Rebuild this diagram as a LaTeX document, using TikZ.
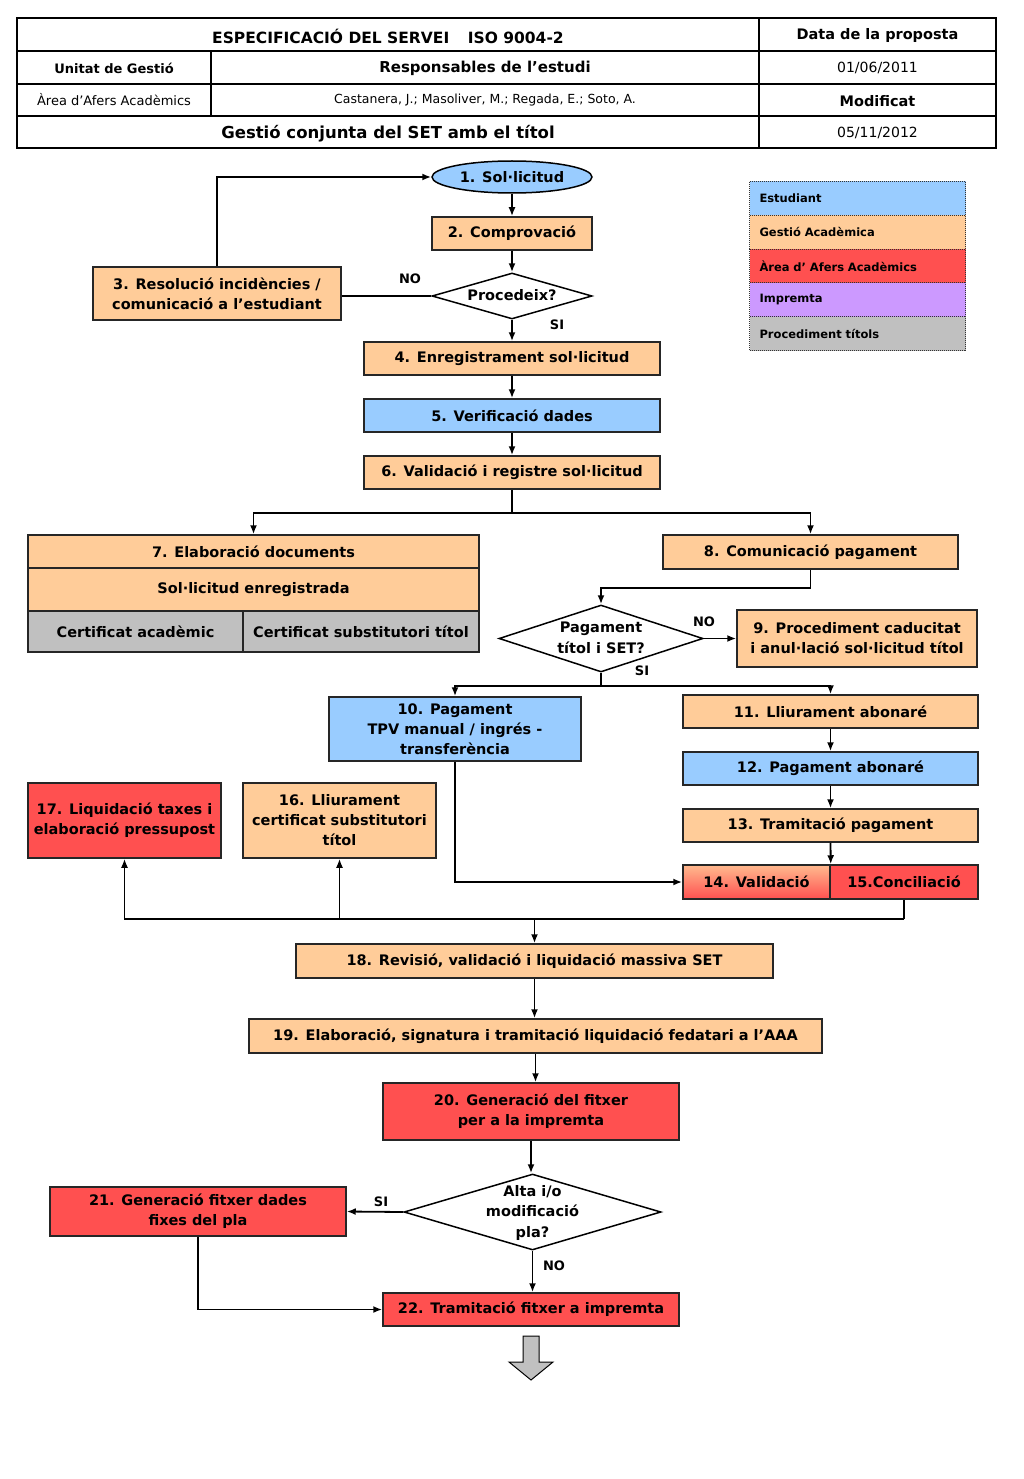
\documentclass[tikz,border=0pt]{standalone}
\usepackage{fontspec}
\setmainfont{DejaVu Sans}
\usetikzlibrary{shapes,arrows.meta,positioning,calc}

\definecolor{estblue}{HTML}{99CCFF}
\definecolor{gesorange}{HTML}{FFCC99}
\definecolor{aaared}{HTML}{FF5050}
\definecolor{imppurple}{HTML}{CC99FF}
\definecolor{titgrey}{HTML}{C0C0C0}

% text of a decision, kept out of the diamond's size
\newcommand{\dtext}[1]{\raisebox{-.55em}{\makebox[0pt]{\smash{\begin{tabular}{@{}c@{}}#1\end{tabular}}}}}

\begin{document}
\begin{tikzpicture}[x=1pt,y=-1pt,
    box/.style={draw=black!85, line width=1.5pt, fill=gesorange, align=center, inner sep=0pt,
        font=\bfseries\fontsize{14.5}{20}\selectfont},
    sz/.style 2 args={minimum width=#1pt, minimum height=#2pt},
    dec/.style={diamond, draw=black, line width=1.5pt, fill=white, inner sep=0pt,
        font=\bfseries\fontsize{14.5}{20.5}\selectfont},
    flow/.style={line width=1.8pt, -{Latex[length=9pt,width=7pt]}},
    conn/.style={line width=1.8pt},
    yn/.style={font=\bfseries\fontsize{13}{15}\selectfont},
    hdr/.style={inner sep=0pt, font=\fontsize{14}{16}\selectfont},
    legend/.style={draw=black!80, densely dotted, line width=1pt, text width=196pt, inner xsep=10pt,
        minimum height=33.8pt, align=left, font=\bfseries\fontsize{11.5}{14}\selectfont}]

    \useasboundingbox (0,0) rectangle (1024,1479);

    % capcalera
    \draw[line width=1.8pt] (17,18) rectangle (996,148);
    \draw[line width=1.5pt] (17,51) -- (996,51) (17,84) -- (996,84) (17,116) -- (996,116)
        (759,18) -- (759,148) (211,51) -- (211,116);
    \node[hdr, font=\bfseries\fontsize{15.5}{16}\selectfont] (espec) at (388,36) {ESPECIFICACIÓ DEL SERVEI\hspace{1.2em}ISO 9004-2};
    \node[hdr, font=\bfseries\fontsize{14.5}{16}\selectfont] (data) at (877.5,36) {Data de la proposta};
    \node[hdr, font=\bfseries\fontsize{13}{16}\selectfont] (unitat) at (114,68) {Unitat de Gestió};
    \node[hdr, font=\bfseries\fontsize{15}{16}\selectfont] (resp) at (485,68.5) {Responsables de l’estudi};
    \node[hdr] (data1) at (877.5,68) {01/06/2011};
    \node[hdr, font=\fontsize{13}{16}\selectfont] (area) at (114,100) {Àrea d’Afers Acadèmics};
    \node[hdr, font=\fontsize{12.5}{16}\selectfont] (autors) at (485,100) {Castanera, J.; Masoliver, M.; Regada, E.; Soto, A.};
    \node[hdr, font=\bfseries\fontsize{14.5}{16}\selectfont] (modif) at (877.5,101) {Modificat};
    \node[hdr, font=\bfseries\fontsize{16.5}{18}\selectfont] (titol) at (388,133.5) {Gestió conjunta del SET amb el títol};
    \node[hdr] (data2) at (877.5,132.5) {05/11/2012};

    % llegenda
    \foreach \col/\txt [count=\i] in {estblue/Estudiant, gesorange/Gestió Acadèmica,
        aaared/Àrea d’ Afers Acadèmics, imppurple/Impremta, titgrey/Procediment títols}
        \node[legend, fill=\col, anchor=north west] (leg\i) at (749,{181+(\i-1)*33.8}) {\txt};

    % passos
    \node[ellipse, draw=black, line width=1.5pt, fill=estblue, inner sep=0pt, sz={160}{32},
        font=\bfseries\fontsize{14.5}{20}\selectfont] (sol) at (512,177) {1. Sol·licitud};
    \node[box, sz={160}{33}] (comp) at (512,233.5) {2. Comprovació};
    \node[dec, sz={160}{46}] (proc) at (512,296) {\dtext{Procedeix?}};
    \node[box, sz={248}{53}] (res) at (217,293.5) {3. Resolució incidències /\\comunicació a l’estudiant};
    \node[box, sz={296}{33}] (enreg) at (512,358.5) {4. Enregistrament sol·licitud};
    \node[box, fill=estblue, sz={296}{33}] (verif) at (512,415.5) {5. Verificació dades};
    \node[box, sz={296}{33}] (valid) at (512,472.5) {6. Validació i registre sol·licitud};

    \node[box, sz={451}{33}] (elab) at (253.5,551.5) {7. Elaboració documents};
    \node[box, sz={451}{43}] (solreg) at (253.5,589.5) {Sol·licitud enregistrada};
    \node[box, fill=titgrey, sz={215}{41}] (certac) at (135.5,631.5) {Certificat acadèmic};
    \node[box, fill=titgrey, sz={236}{41}] (certsub) at (361,631.5) {Certificat substitutori títol};

    \node[box, sz={295}{34}] (comun) at (810.5,552) {8. Comunicació pagament};
    \node[dec, sz={204}{67}] (pagq) at (601,638.5) {\dtext{Pagament\\títol i SET?}};
    \node[box, sz={240}{57}] (cad) at (857,638.5) {9. Procediment caducitat\\i anul·lació sol·licitud títol};

    \node[box, fill=estblue, sz={252}{64}] (pagtpv) at (455,729) {10. Pagament\\TPV manual / ingrés -\\transferència};
    \node[box, sz={295}{33}] (abon) at (830.5,711.5) {11. Lliurament abonaré};
    \node[box, fill=estblue, sz={295}{33}] (pagab) at (830.5,768.5) {12. Pagament abonaré};
    \node[box, sz={295}{33}] (tram) at (830.5,825.5) {13. Tramitació pagament};
    \node[box, top color=gesorange!85!aaared, bottom color=aaared, sz={147}{34}] (vali) at (756.5,882) {14. Validació};
    \node[box, fill=aaared, sz={148}{34}] (conc) at (904,882) {15.Conciliació};

    \node[box, fill=aaared, sz={193}{75}] (liq) at (124.5,820.5) {17. Liquidació taxes i\\elaboració pressupost};
    \node[box, sz={193}{75}] (lliur) at (339.5,820.5) {16. Lliurament\\certificat substitutori\\títol};

    \node[box, sz={477}{34}] (revis) at (534.5,961) {18. Revisió, validació i liquidació massiva SET};
    \node[box, sz={573}{34}] (fedat) at (535.5,1036) {19. Elaboració, signatura i tramitació liquidació fedatari a l’AAA};
    \node[box, fill=aaared, sz={296}{57}] (genimp) at (531,1111.5) {20. Generació del fitxer\\per a la impremta};
    \node[dec, sz={257}{76}] (altaq) at (532.5,1212) {\dtext{Alta i/o\\modificació\\pla?}};
    \node[box, fill=aaared, sz={296}{49}] (genpla) at (198,1211.5) {21. Generació fitxer dades\\fixes del pla};
    \node[box, fill=aaared, sz={296}{33}] (tramimp) at (531,1309.5) {22. Tramitació fitxer a impremta};

    % respostes
    \node[yn] (no1) at (410,279) {NO};
    \node[yn] (si1) at (557,325) {SI};
    \node[yn] (no2) at (704,622) {NO};
    \node[yn] (si2) at (642,671) {SI};
    \node[yn] (si3) at (381,1202) {SI};
    \node[yn] (no3) at (554,1266) {NO};

    % connexions
    \draw[flow] (sol.south) -- (comp.north);
    \draw[flow] (comp.south) -- (proc.north);
    \draw[conn] (proc.west) -- (proc.west -| res.east);
    \draw[flow] (res.north) |- (sol.west);
    \draw[flow] (proc.south) -- (enreg.north);
    \draw[flow] (enreg.south) -- (verif.north);
    \draw[flow] (verif.south) -- (valid.north);
    \draw[conn] (valid.south) -- ++(0,23) coordinate (j1);
    \draw[flow] (j1) -| (elab.north);
    \draw[flow] (j1) -| (comun.north);
    \draw[flow] (comun.south) -- ++(0,18) -| (pagq.north);
    \draw[flow] (pagq.east) -- (cad.west);
    \draw[conn] (pagq.south) -- ++(0,13) coordinate (j2);
    \draw[flow] (j2) -| (pagtpv.north);
    \draw[flow] (j2) -| (abon.north);
    \draw[flow] (abon.south) -- (pagab.north);
    \draw[flow] (pagab.south) -- (tram.north);
    \draw[flow] (tram.south) -- (vali.north east);
    \draw[flow] (pagtpv.south) |- (vali.west);
    \draw[conn] (conc.south) -- ++(0,19) coordinate (j3);
    \draw[flow] (j3) -| (liq.south);
    \draw[flow] (lliur.south |- j3) -- (lliur.south);
    \draw[flow] (revis.north |- j3) -- (revis.north);
    \draw[flow] (revis.south) -- (revis.south |- fedat.north);
    \draw[flow] (fedat.south) -- (fedat.south |- genimp.north);
    \draw[flow] (genimp.south) -- (genimp.south |- altaq.north);
    \draw[flow] (altaq.west) -- (genpla.east);
    \draw[flow] (altaq.south) -- (altaq.south |- tramimp.north);
    \draw[flow] (genpla.south) |- (tramimp.west);

    % fletxa de sortida
    \draw[fill=titgrey, line width=1pt] (523,1336) -- (539,1336) -- (539,1362) -- (553,1362)
        -- (531,1380) -- (509,1362) -- (523,1362) -- cycle;
\end{tikzpicture}
\end{document}
